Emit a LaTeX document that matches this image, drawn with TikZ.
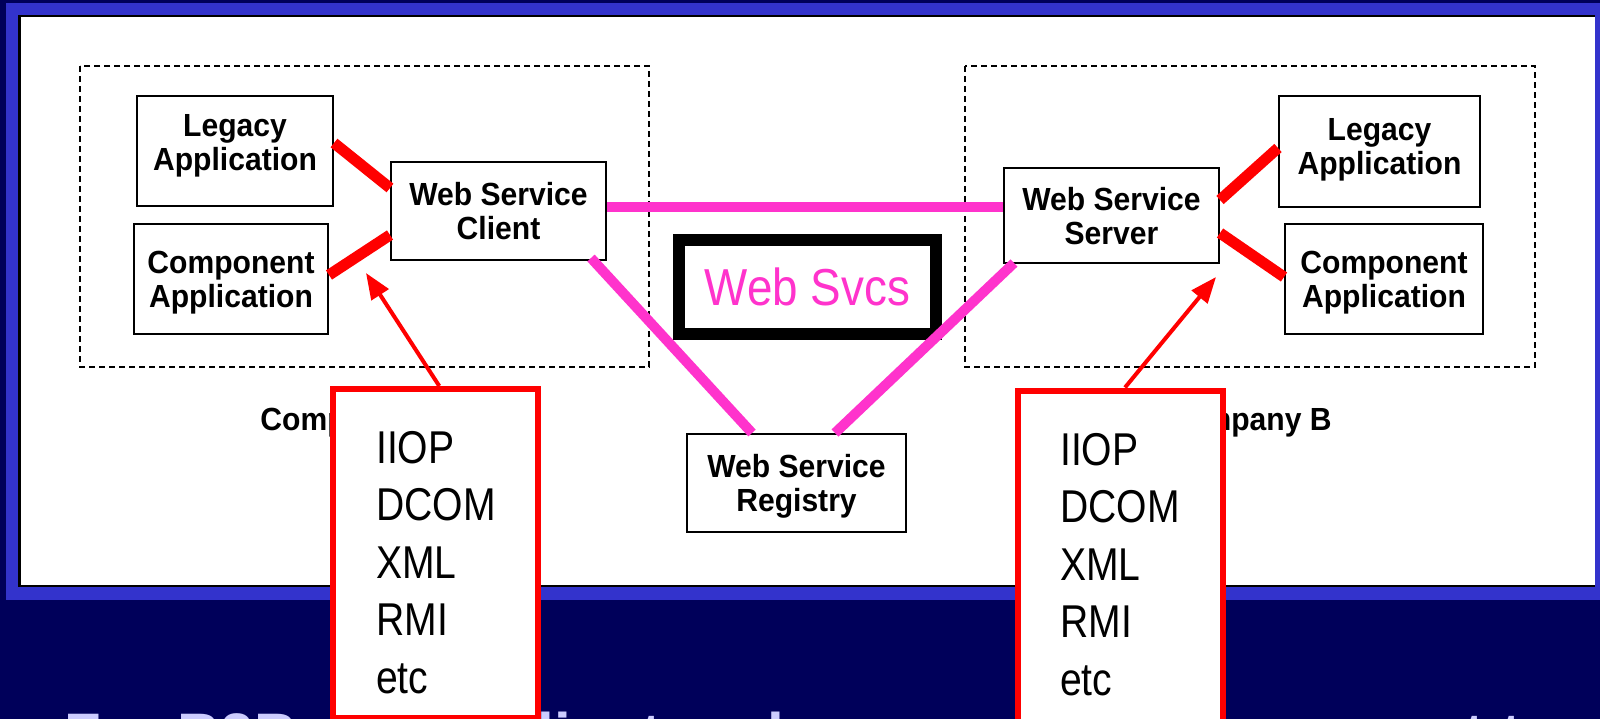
\documentclass[tikz,border=0pt]{standalone}
\usepackage{fontspec}
\setmainfont{Liberation Sans}
\newfontfamily\diagfont[FakeStretch=0.94]{Liberation Sans}
\newfontfamily\protofont[FakeStretch=0.85]{Liberation Sans}
\newfontfamily\svcsfont[FakeStretch=0.88]{Liberation Sans}
\usetikzlibrary{arrows.meta,calc}

\definecolor{slidebg}{HTML}{00005A}
\definecolor{frameblue}{HTML}{3333CC}
\definecolor{wsmagenta}{HTML}{FF33CC}
\definecolor{protored}{HTML}{FF0000}
\definecolor{captionlav}{HTML}{CCCCFF}

\tikzset{
  appbox/.style={draw=black, line width=2pt, fill=white, inner sep=0pt,
    align=center, text depth=0pt,
    font=\diagfont\bfseries\fontsize{32}{34}\selectfont},
  complabel/.style={inner sep=0pt, font=\diagfont\bfseries\fontsize{32}{34}\selectfont},
  dotbox/.style={draw=black, line width=2pt, dash pattern=on 6pt off 4pt},
  svcsbox/.style={draw=black, line width=12pt, fill=white, inner sep=0pt,
    text=wsmagenta, font=\svcsfont\fontsize{52}{60}\selectfont},
  redlink/.style={draw=protored, line width=11pt},
  pinklink/.style={draw=wsmagenta, line width=10pt},
  protobox/.style={draw=protored, line width=6pt, fill=white, inner sep=0pt},
  prototext/.style={inner sep=0pt, align=left,
    font=\protofont\fontsize{46}{57.5}\selectfont},
  pointer/.style={draw=protored, line width=4pt,
    -{Triangle[length=26pt,width=20pt]}}
}

\begin{document}
\begin{tikzpicture}[x=1pt,y=-1pt]
\useasboundingbox (0,0) rectangle (1600,719);
\clip (0,0) rectangle (1600,719);

% slide background, blue frame and white panel
\fill[slidebg] (0,0) rectangle (1600,719);
\fill[frameblue] (6,3) rectangle (1606,600);
\fill[white] (19,15) rectangle (1595,587);
\draw[black, line width=2.5pt] (1595,16) -- (19.5,16) -- (19.5,586) -- (1595,586);

% company boundaries
\draw[dotbox] (80,66) rectangle (649,367);
\draw[dotbox] (965,66) rectangle (1535,367);
\node[complabel, anchor=base] (compA) at (344,430) {Company A};
\node[complabel, anchor=base] (compB) at (1248,430) {Company B};

% central label
\node[svcsbox, minimum width=257pt, minimum height=94pt] (svcs) at (807.5,287) {Web Svcs};

% company A
\node[appbox, minimum width=196pt, minimum height=110pt, text depth=18pt] (legA) at (235,151) {Legacy\\Application};
\node[appbox, minimum width=194pt, minimum height=110pt] (compoA) at (231,279) {Component\\Application};
\node[appbox, minimum width=215pt, minimum height=98pt] (client) at (498.5,211) {Web Service\\Client};

% company B
\node[appbox, minimum width=215pt, minimum height=95pt] (server) at (1111.5,215.5) {Web Service\\Server};
\node[appbox, minimum width=201pt, minimum height=111pt, text depth=10pt] (legB) at (1379.5,151.5) {Legacy\\Application};
\node[appbox, minimum width=198pt, minimum height=110pt] (compoB) at (1384,279) {Component\\Application};

% registry
\node[appbox, minimum width=219pt, minimum height=98pt] (registry) at (796.5,483) {Web Service\\Registry};

% local links
\draw[redlink] ([yshift=8pt]legA.east) -- ([yshift=23pt]client.west);
\draw[redlink] ([yshift=4pt]compoA.east) -- ([yshift=-24pt]client.west);
\draw[redlink] ([yshift=15.5pt]server.east) -- ([yshift=3.5pt]legB.west);
\draw[redlink] ([yshift=-17.5pt]server.east) -- ([yshift=2pt]compoB.west);

% web service links
\draw[pinklink] ([yshift=4pt]client.east) -- ([yshift=8.5pt]server.west);
\draw[pinklink] ([xshift=-16pt,yshift=3pt]client.south east) -- ([xshift=-44.5pt]registry.north);
\draw[pinklink] ([xshift=11pt,yshift=1pt]server.south west) -- ([xshift=38.5pt]registry.north);

% slide caption
\node[anchor=base west, inner sep=0pt, text=captionlav,
  font=\fontsize{60}{72}\selectfont\bfseries] (caption) at (64,755)
  {For B2B, every client and server can now connect to};

% protocol call-outs
\node[protobox, minimum width=205.5pt, minimum height=329pt] (protoA) at (435.25,553.5) {};
\node[prototext, anchor=north west] (listA) at (376,431) {IIOP\\DCOM\\XML\\RMI\\etc};
\coordinate (tipA) at (366,273);
\draw[pointer] ([xshift=4pt]protoA.north) -- (tipA);

\node[protobox, minimum width=205pt, minimum height=331.5pt] (protoB) at (1120,556.25) {};
\node[prototext, anchor=north west] (listB) at (1060,433) {IIOP\\DCOM\\XML\\RMI\\etc};
\coordinate (tipB) at (1216,277);
\draw[pointer] ([xshift=5pt]protoB.north) -- (tipB);
\end{tikzpicture}
\end{document}
